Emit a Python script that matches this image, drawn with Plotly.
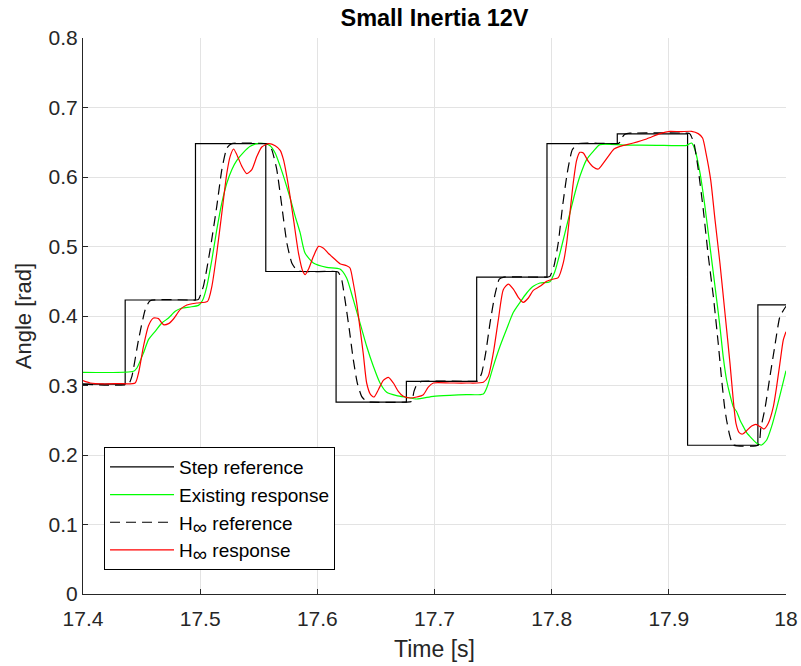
import plotly.graph_objects as go

# ---------------- data ----------------
step_t = [17.4, 17.436, 17.496, 17.556, 17.616, 17.676, 17.736, 17.796, 17.856, 17.916, 17.976, 18.0]
step_v = [0.302, 0.423, 0.648, 0.464, 0.276, 0.306, 0.456, 0.648, 0.662, 0.214, 0.416, 0.416]

hinf_ref_t = [17.4, 17.4388, 17.4417, 17.4474, 17.4531, 17.4573, 17.4966, 17.4986, 17.5028, 17.5085,
              17.5142, 17.5185, 17.5228, 17.527, 17.5563, 17.5583, 17.5612, 17.5654, 17.5697, 17.574,
              17.5782, 17.5825, 17.5868, 17.6156, 17.6179, 17.6208, 17.6236, 17.6273, 17.6307, 17.6341,
              17.6378, 17.6421, 17.6464, 17.6757, 17.6805, 17.6825, 17.6853, 17.689, 17.736, 17.7374,
              17.7403, 17.7437, 17.7474, 17.7516, 17.7553, 17.7593, 17.7963, 17.7985, 17.8019, 17.8056,
              17.8093, 17.8133, 17.8176, 17.8227, 17.856, 17.8577, 17.8597, 17.8625, 17.8668, 17.9157,
              17.918, 17.9214, 17.9251, 17.9294, 17.9337, 17.938, 17.9422, 17.9451, 17.9475, 17.9493,
              17.952, 17.955, 17.9764, 17.9785, 17.9821, 17.9863, 17.9906, 17.9948, 18.0]
hinf_ref_v = [0.302, 0.302, 0.313, 0.366, 0.409, 0.422, 0.423, 0.424, 0.443, 0.4955,
              0.558, 0.6105, 0.6417, 0.648, 0.648, 0.647, 0.639, 0.6106, 0.558, 0.505,
              0.4763, 0.4657, 0.464, 0.464, 0.463, 0.4523, 0.4235, 0.3803, 0.3372, 0.3036,
              0.2844, 0.2767, 0.276, 0.276, 0.277, 0.2916, 0.3026, 0.306, 0.306, 0.307,
              0.318, 0.3468, 0.39, 0.4307, 0.4532, 0.456, 0.456, 0.457, 0.4715, 0.505,
              0.5578, 0.6058, 0.6393, 0.648, 0.648, 0.649, 0.6561, 0.6614, 0.663, 0.663,
              0.662, 0.649, 0.611, 0.553, 0.486, 0.428, 0.36, 0.308, 0.27, 0.25,
              0.228, 0.2144, 0.2144, 0.2386, 0.2674, 0.3129, 0.3583, 0.3991, 0.414]

existing_t = [17.4, 17.4431, 17.446, 17.4516, 17.4559, 17.4616, 17.4673, 17.473, 17.4787, 17.4844,
              17.4915, 17.4986, 17.5023, 17.5057, 17.51, 17.5142, 17.5185, 17.5228, 17.527, 17.5313,
              17.537, 17.5427, 17.5484, 17.5555, 17.5597, 17.564, 17.5683, 17.5725, 17.5768, 17.5811,
              17.5853, 17.5895, 17.5966, 17.608, 17.6193, 17.625, 17.6307, 17.6364, 17.6421, 17.6478,
              17.6535, 17.6592, 17.6677, 17.6762, 17.6848, 17.699, 17.7132, 17.7274, 17.7417, 17.7451,
              17.7502, 17.7559, 17.7616, 17.7673, 17.773, 17.7787, 17.7843, 17.79, 17.7985, 17.8028,
              17.8071, 17.8113, 17.8156, 17.8199, 17.8241, 17.8298, 17.8355, 17.8412, 17.8611, 17.8896,
              17.9152, 17.9194, 17.9223, 17.9266, 17.9308, 17.9351, 17.9394, 17.9436, 17.9465, 17.9493,
              17.9522, 17.955, 17.9579, 17.9607, 17.9636, 17.9664, 17.9707, 17.975, 17.9792, 17.9835,
              17.9877, 17.992, 17.9963, 18.0]
existing_v = [0.319, 0.3204, 0.3252, 0.3468, 0.366, 0.3779, 0.3899, 0.3971, 0.4067, 0.4115,
              0.413, 0.4153, 0.4235, 0.4427, 0.4811, 0.5242, 0.5626, 0.5914, 0.6106, 0.624,
              0.6355, 0.6441, 0.648, 0.648, 0.6451, 0.6345, 0.6153, 0.5938, 0.5698, 0.5434,
              0.52, 0.4906, 0.4763, 0.47, 0.4676, 0.4547, 0.4235, 0.39, 0.3564, 0.3276,
              0.3036, 0.2902, 0.2854, 0.283, 0.2806, 0.2844, 0.2859, 0.2868, 0.2878, 0.2988,
              0.3276, 0.3564, 0.3813, 0.4053, 0.4197, 0.4331, 0.4427, 0.4475, 0.4494, 0.4643,
              0.4906, 0.5194, 0.5482, 0.577, 0.601, 0.625, 0.6369, 0.6465, 0.646, 0.6456,
              0.6456, 0.6489, 0.6393, 0.6058, 0.5578, 0.5002, 0.4427, 0.3851, 0.34, 0.3079,
              0.2863, 0.2695, 0.2623, 0.2504, 0.2408, 0.2322, 0.224, 0.2168, 0.2144, 0.2216,
              0.2408, 0.2672, 0.296, 0.3213]

hinf_resp_t = [17.4, 17.4061, 17.4175, 17.4289, 17.4445, 17.4474, 17.4516, 17.4559, 17.4602, 17.4644,
               17.4687, 17.473, 17.4772, 17.4829, 17.4886, 17.4972, 17.5063, 17.51, 17.5142, 17.5185,
               17.5228, 17.5256, 17.5285, 17.5313, 17.5356, 17.5398, 17.5441, 17.5484, 17.5526, 17.5583,
               17.564, 17.5683, 17.5711, 17.5754, 17.5797, 17.5839, 17.5876, 17.5896, 17.5925, 17.5967,
               17.601, 17.6053, 17.6095, 17.6138, 17.6193, 17.625, 17.6279, 17.6307, 17.6336, 17.6364,
               17.6393, 17.6421, 17.6455, 17.6484, 17.6521, 17.6563, 17.6606, 17.6649, 17.6691, 17.6734,
               17.6791, 17.6848, 17.6905, 17.6947, 17.699, 17.7132, 17.7274, 17.7417, 17.7459, 17.7502,
               17.7545, 17.7587, 17.763, 17.7673, 17.7715, 17.7758, 17.7801, 17.7843, 17.79, 17.7957,
               17.8014, 17.8056, 17.8099, 17.8128, 17.8156, 17.8184, 17.8213, 17.8241, 17.827, 17.8313,
               17.8355, 17.8398, 17.8441, 17.8483, 17.8532, 17.8583, 17.8697, 17.881, 17.8924, 17.901,
               17.9095, 17.9194, 17.9251, 17.9288, 17.9317, 17.9357, 17.9394, 17.9436, 17.9479, 17.9522,
               17.955, 17.9573, 17.9601, 17.963, 17.9664, 17.9707, 17.9744, 17.9778, 17.9812, 17.9849,
               17.9892, 17.992, 17.9948, 17.9977, 18.0]
hinf_resp_v = [0.307, 0.3036, 0.3022, 0.3027, 0.3036, 0.318, 0.3564, 0.3861, 0.3971, 0.3962,
               0.3875, 0.389, 0.3957, 0.4091, 0.4158, 0.4187, 0.4211, 0.4427, 0.4906, 0.5482,
               0.6058, 0.6297, 0.6403, 0.6321, 0.6153, 0.6048, 0.6106, 0.6297, 0.6432, 0.648,
               0.6451, 0.6384, 0.6249, 0.5866, 0.5386, 0.4906, 0.4643, 0.4595, 0.4676, 0.4859,
               0.5002, 0.4975, 0.4900, 0.4835, 0.4753, 0.4724, 0.4691, 0.4475, 0.4187, 0.3827,
               0.3444, 0.3036, 0.2868, 0.2835, 0.294, 0.3074, 0.3118, 0.3036, 0.2916, 0.2844,
               0.282, 0.2835, 0.2868, 0.2978, 0.3036, 0.3036, 0.3036, 0.3046, 0.3132, 0.3468,
               0.3947, 0.4379, 0.446, 0.4388, 0.4269, 0.4197, 0.4259, 0.4369, 0.4427, 0.4499,
               0.4532, 0.4552, 0.4763, 0.505, 0.5482, 0.5914, 0.624, 0.6355, 0.6345, 0.6225,
               0.6144, 0.6115, 0.6201, 0.6297, 0.6403, 0.6441, 0.6489, 0.6547, 0.6624, 0.6657,
               0.6652, 0.6657, 0.6624, 0.6561, 0.6345, 0.5962, 0.5386, 0.4763, 0.4043, 0.3319,
               0.2791, 0.2456, 0.2321, 0.2302, 0.235, 0.2417, 0.2441, 0.2408, 0.2374, 0.2456,
               0.2696, 0.2983, 0.3319, 0.3655, 0.3775]

x_tick_vals = [17.4, 17.5, 17.6, 17.7, 17.8, 17.9, 18.0]
x_tick_text = ["17.4", "17.5", "17.6", "17.7", "17.8", "17.9", "18"]
y_tick_vals = [0, 0.1, 0.2, 0.3, 0.4, 0.5, 0.6, 0.7, 0.8]
y_tick_text = ["0", "0.1", "0.2", "0.3", "0.4", "0.5", "0.6", "0.7", "0.8"]

legend_names = ["Step reference", "Existing response",
                "H<sub><span style='font-size:20px'>∞</span></sub> reference",
                "H<sub><span style='font-size:20px'>∞</span></sub> response"]

FONT = "Liberation Sans, Arial, sans-serif"
AX = "#262626"

W, H = 801, 666
L, T = 83, 38
PW, PH = 703, 556

fig = go.Figure()
fig.add_trace(go.Scatter(x=step_t, y=step_v, mode="lines", name=legend_names[0],
                         line=dict(color="black", width=1.2, shape="hv")))
fig.add_trace(go.Scatter(x=existing_t, y=existing_v, mode="lines", name=legend_names[1],
                         line=dict(color="#00ff00", width=1.2, shape="spline", smoothing=0.6)))
fig.add_trace(go.Scatter(x=hinf_ref_t, y=hinf_ref_v, mode="lines", name=legend_names[2],
                         line=dict(color="black", width=1.2, dash="10px,6px", shape="spline", smoothing=0.5)))
fig.add_trace(go.Scatter(x=hinf_resp_t, y=hinf_resp_v, mode="lines", name=legend_names[3],
                         line=dict(color="#ff0000", width=1.2, shape="spline", smoothing=0.6)))

fig.update_layout(
    width=W, height=H,
    margin=dict(l=L, r=W - L - PW, t=T, b=H - T - PH, autoexpand=False),
    paper_bgcolor="white", plot_bgcolor="white",
    font=dict(family=FONT, color=AX, size=18),
    title=dict(text="<b>Small Inertia 12V</b>", x=(L + PW / 2) / W, xanchor="center",
               y=1 - 18 / H, yanchor="middle", font=dict(size=23.5, color="black")),
    showlegend=True,
    legend=dict(x=0.0299, y=0.2644, xanchor="left", yanchor="top",
                bgcolor="white", bordercolor="black", borderwidth=1,
                font=dict(size=19, color="black"), itemwidth=64,
                tracegroupgap=0),
)
fig.update_xaxes(range=[17.4, 18.0], tickvals=x_tick_vals, ticktext=x_tick_text,
                 automargin=False,
                 showgrid=True, gridcolor="#e3e3e3", gridwidth=1,
                 showline=True, linecolor=AX, linewidth=1, mirror=False,
                 ticks="inside", ticklen=5, tickcolor=AX, zeroline=False,
                 tickfont=dict(size=21), ticklabelstandoff=6,
                 title=dict(text="Time [s]", font=dict(size=23), standoff=11))
fig.update_yaxes(range=[0, 0.8], tickvals=y_tick_vals, ticktext=y_tick_text,
                 automargin=False,
                 showgrid=True, gridcolor="#e3e3e3", gridwidth=1,
                 showline=True, linecolor=AX, linewidth=1, mirror=False,
                 ticks="inside", ticklen=5, tickcolor=AX, zeroline=False,
                 tickfont=dict(size=21),
                 title=dict(text="Angle [rad]", font=dict(size=22), standoff=10))

# remove the default 8px page margin so the figure sits exactly in the 801x666 window
fig.write_html("out.html", config={"displayModeBar": False},
               post_script="document.body.style.margin='0';document.body.style.overflow='hidden';")
